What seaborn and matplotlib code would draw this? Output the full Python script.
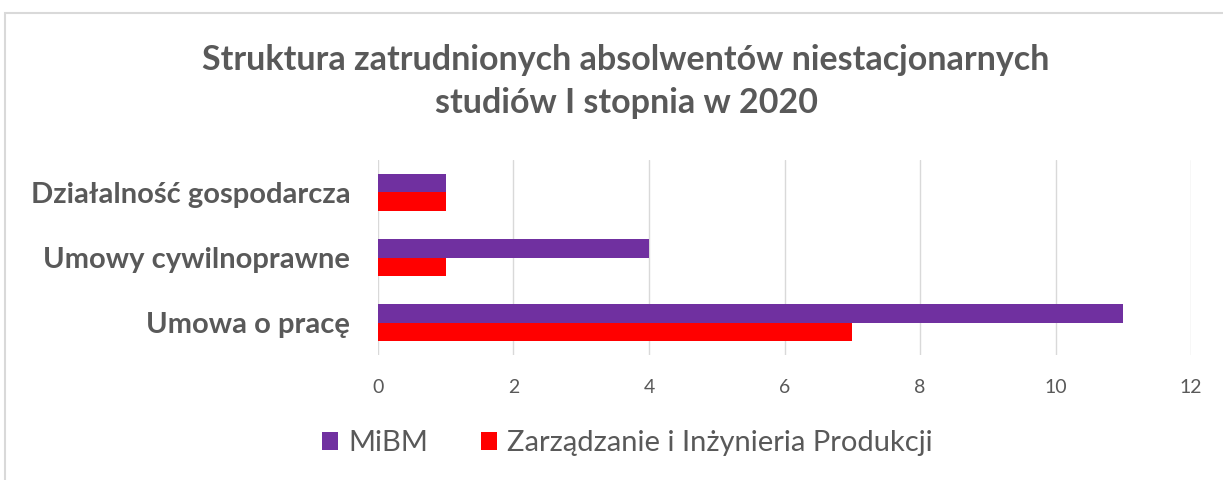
import matplotlib.pyplot as plt
import seaborn as sns
import pandas as pd
from matplotlib.patches import Rectangle

categories = ['Działalność gospodarcza', 'Umowy cywilnoprawne', 'Umowa o pracę']
series = ['MiBM', 'Zarządzanie i Inżynieria Produkcji']
mibm = [1, 4, 11]
zip_vals = [1, 1, 7]
xticks = [0, 2, 4, 6, 8, 10, 12]
colors = ['#7030A0', '#FF0000']

df = pd.DataFrame({
    'Kategoria': categories * 2,
    'Kierunek': [series[0]] * 3 + [series[1]] * 3,
    'Liczba': mibm + zip_vals,
})

sns.set_style('white')
plt.rcParams['font.family'] = ['Lato', 'DejaVu Sans']
gray = '#595959'

fig = plt.figure(figsize=(12.23, 4.8), dpi=100)
ax = fig.add_axes([0.309, 0.26, 0.665, 0.407])

sns.barplot(data=df, y='Kategoria', x='Liczba', hue='Kierunek', order=categories,
            hue_order=series, palette=colors, orient='h', width=0.57, gap=0,
            saturation=1, linewidth=0, ax=ax, legend=True)

ax.set_xlim(0, 12)
ax.set_xticks(xticks)
ax.set_ylim(2.5, -0.5)
ax.grid(axis='x', color='#D9D9D9', linewidth=1)
ax.set_axisbelow(True)
for s in ax.spines.values():
    s.set_visible(False)
ax.tick_params(axis='both', length=0)
ax.tick_params(axis='x', labelsize=14, labelcolor=gray, pad=17)
ax.tick_params(axis='y', labelsize=21, labelcolor=gray, pad=20)
for lbl in ax.get_yticklabels():
    lbl.set_fontweight('bold')
ax.set_xlabel('')
ax.set_ylabel('')

ax.legend(loc='center', bbox_to_anchor=(0.513, 0.077), bbox_transform=fig.transFigure,
          ncol=2, frameon=False, fontsize=21, handlelength=0.55, handleheight=0.55,
          handletextpad=0.35, columnspacing=1.8, labelcolor=gray)

fig.text(0.512, 0.83, 'Struktura zatrudnionych absolwentów niestacjonarnych\nstudiów I stopnia w 2020',
         ha='center', va='center', fontsize=24.5, fontweight='bold', color=gray, linespacing=1.4)

fig.patches.append(Rectangle((5 / 1223, -0.1), 1.2, 1 - 13 / 480 + 0.1, transform=fig.transFigure,
                             fill=False, edgecolor='#D9D9D9', linewidth=1.5))

fig.savefig('out.png', dpi=100, facecolor='white')
